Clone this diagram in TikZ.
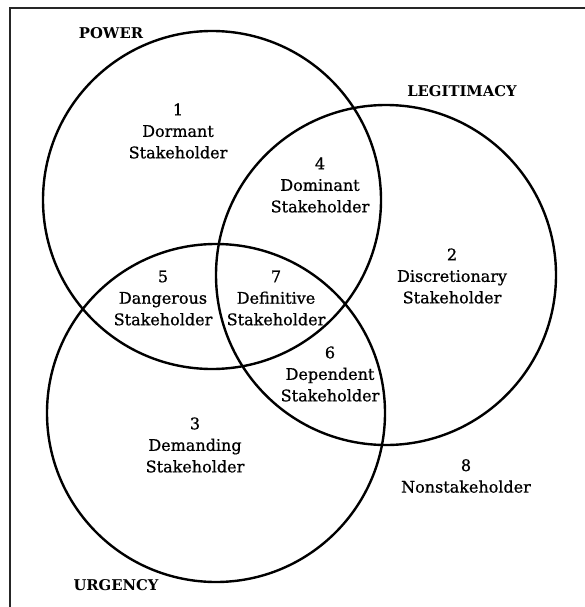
\documentclass[tikz,border=0pt]{standalone}
\usepackage{fontspec}
\setmainfont{DejaVu Serif}
\newfontfamily\regionfont[FakeBold=0.8]{DejaVu Serif}
\begin{document}
\begin{tikzpicture}[x=1pt,y=-1pt,
  venn/.style={draw=black,line width=2.4pt},
  region/.style={align=center,font=\regionfont\fontsize{16}{21.5}\selectfont,inner sep=0pt},
  title/.style={font=\fontsize{14.8}{16}\selectfont\bfseries,inner sep=0pt},
  frame/.style={draw=black!85,line width=1.6pt}]
\useasboundingbox (0,0) rectangle (585,607);
\coordinate (tl) at (10,8);
\coordinate (tr) at (585,8);
\coordinate (bl) at (10,607);
\draw[frame] (tr) -- (tl) -- (bl);
\node[venn,circle,minimum size=338pt,inner sep=0pt] (power) at (212,200) {};
\node[venn,circle,minimum size=340pt,inner sep=0pt] (legit) at (386,275) {};
\node[venn,circle,minimum size=338pt,inner sep=0pt] (urg) at (216,413) {};
\node[title] (tp) at (111,33) {POWER};
\node[title] (tlg) at (462,91) {LEGITIMACY};
\node[title] (tu) at (116,585) {URGENCY};
\node[region] (r1) at (178,131) {1\\Dormant\\Stakeholder};
\node[region] (r4) at (320,185) {4\\Dominant\\Stakeholder};
\node[region] (r2) at (452,276) {2\\Discretionary\\Stakeholder};
\node[region] (r5) at (163,298) {5\\Dangerous\\Stakeholder};
\node[region] (r7) at (276,298) {7\\Definitive\\Stakeholder};
\node[region] (r6) at (330,374) {6\\Dependent\\Stakeholder};
\node[region] (r3) at (195,445) {3\\Demanding\\Stakeholder};
\node[region] (r8) at (466,476) {8\\Nonstakeholder};
\end{tikzpicture}
\end{document}
